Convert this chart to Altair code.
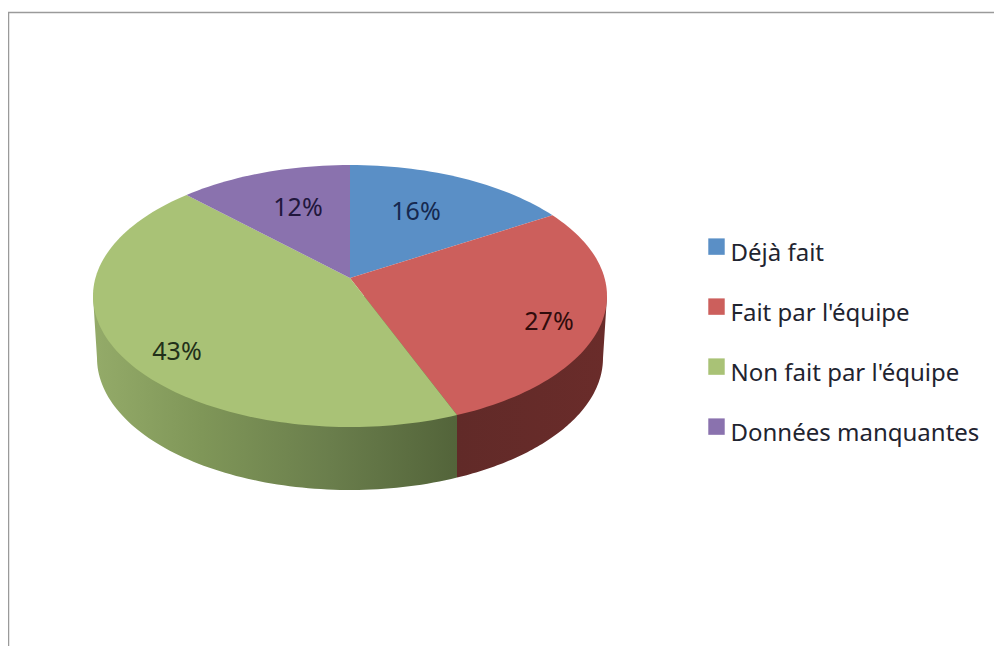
import math
import altair as alt
import pandas as pd

categories = ["Déjà fait", "Fait par l'équipe", "Non fait par l'équipe", "Données manquantes"]
percents = [16, 27, 43, 12]
starts = [0, 52, 155.4, 320.5]
ends = [52, 155.4, 320.5, 360]
colors = ["#5a8fc6", "#cc5f5c", "#a9c276", "#8a72ae"]
label_colors = ["#16294f", "#300c0c", "#22301a", "#21173c"]
label_x = [416, 549, 177, 298]
label_y = [212, 322, 352, 208]

W, H = 986, 638
xs = alt.Scale(domain=[8, 994], range=[0, W], nice=False, zero=False)
ys = alt.Scale(domain=[8, 646], range=[0, H], nice=False, zero=False)
X = lambda f="x": alt.X(f"{f}:Q", scale=xs, axis=None)
Y = lambda f="y": alt.Y(f"{f}:Q", scale=ys, axis=None)

# top face
cx, cy, rx, ry = 350, 296, 257, 131
apex = (350, 278)
rows = []
for name, a, b in zip(categories, starts, ends):
    pts = [apex]
    n = max(2, int((b - a) / 1.5))
    for k in range(n + 1):
        t = math.radians(a + (b - a) * k / n)
        pts.append((cx + rx * math.sin(t), cy - ry * math.cos(t)))
    for i, (px, py) in enumerate(pts):
        rows.append({"cat": name, "i": i, "x": px, "y": py})
faces = alt.Chart(pd.DataFrame(rows)).mark_line(interpolate="linear-closed", strokeWidth=0).encode(
    x=X(), y=Y(), order="i:Q", detail="cat:N",
    fill=alt.Fill("cat:N", scale=alt.Scale(domain=categories, range=colors), sort=None,
                  legend=alt.Legend(orient="none", legendX=696.5, legendY=234, title=None,
                                    symbolType="M-1,-1.9H1V0.1H-1Z", symbolSize=270, symbolStrokeWidth=0,
                                    labelFont="Noto Sans", labelFontSize=24, labelColor="#1f2430",
                                    labelOffset=2, rowPadding=32, labelLimit=320)),
)

# side wall
bx, by, brx, bry = 350, 358, 253, 132
def wall(t0, t1, edge):
    out = []
    if edge == "left":
        out.append({"x": 93, "y": cy, "y2": cy})
    n = 80
    for k in range(n + 1):
        t = math.radians(t0 + (t1 - t0) * k / n)
        out.append({"x": bx + brx * math.sin(t), "y": cy, "y2": by + bry * math.cos(t)})
    if edge == "right":
        out.append({"x": 607, "y": cy, "y2": cy})
    return pd.DataFrame(out)

split = math.degrees(math.asin((457 - bx) / brx))
green_stops = [(0, "#94ab69"), (0.3, "#7f9658"), (0.65, "#6a7e4c"), (1, "#53643a")]
red_stops = [(0, "#612a28"), (1, "#6a2c2a")]
def grad(stops):
    return alt.LinearGradient(gradient="linear", x1=0, x2=1, y1=0, y2=0,
                              stops=[alt.GradientStop(offset=o, color=c) for o, c in stops])
green_wall = alt.Chart(wall(-90, split, "left")).mark_area(color=grad(green_stops)).encode(
    x=X(), y=Y(), y2="y2:Q")
red_wall = alt.Chart(wall(split, 90, "right")).mark_area(color=grad(red_stops)).encode(
    x=X(), y=Y(), y2="y2:Q")

# percent labels
lab = pd.DataFrame({"t": [f"{p}%" for p in percents], "x": label_x, "y": label_y, "c": label_colors})
labels = alt.Chart(lab).mark_text(font="Noto Sans", fontSize=25, align="center", baseline="middle").encode(
    x=X(), y=Y(), text="t:N", color=alt.Color("c:N", scale=None))

# frame
top = alt.Chart(pd.DataFrame({"x": [8], "x2": [994], "y": [12.5]})).mark_rule(color="#9a9a9a", strokeWidth=1.5).encode(
    x=X(), x2="x2:Q", y=Y())
left = alt.Chart(pd.DataFrame({"x": [8.5], "y": [12], "y2": [646]})).mark_rule(color="#9a9a9a", strokeWidth=1.5).encode(
    x=X(), y=Y(), y2="y2:Q")

chart = alt.layer(top, left, green_wall, red_wall, faces, labels).resolve_scale(color="independent").properties(
    width=W, height=H, padding=0,
    autosize=alt.AutoSizeParams(type="none"),
    background="white",
).configure_view(stroke=None)
chart.save("out.html", embed_options={"renderer": "svg", "actions": False})
